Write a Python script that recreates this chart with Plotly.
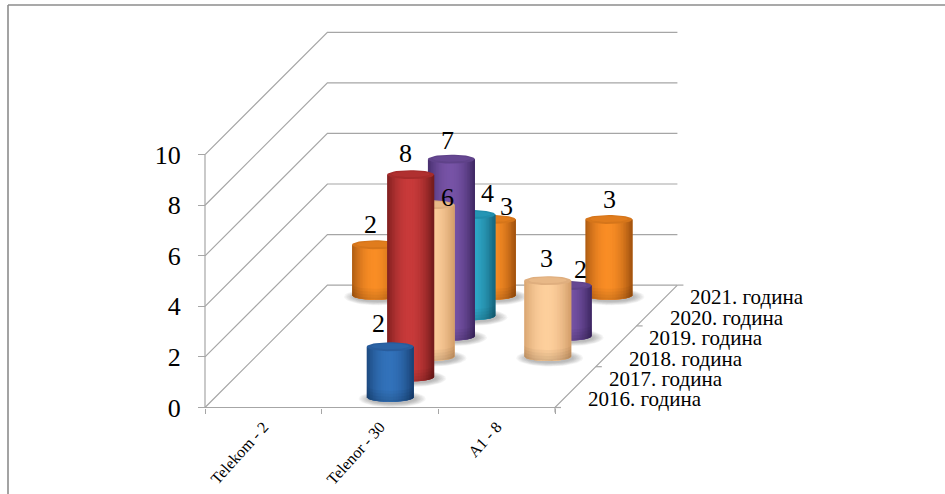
import math
import plotly.graph_objects as go

CATEGORIES = ["Telekom - 2", "Telenor - 30", "A1 - 8"]
YEARS = ["2016. година", "2017. година", "2018. година", "2019. година", "2020. година", "2021. година"]
V2016 = [None, 2, None]
V2017 = [None, 8, None]
V2018 = [None, 6, 3]
V2019 = [None, 7, 2]
V2020 = [None, 4, None]
V2021 = [2, 3, 3]
SERIES = [V2016, V2017, V2018, V2019, V2020, V2021]
VALUE_TICKS = [0, 2, 4, 6, 8, 10]

# styling (per series): centre colour, edge colour, cap colour
STYLE = [
    ("#3272ba", "#1a4478", "#285c9c"),
    ("#c83a3a", "#761c1c", "#a52b2b"),
    ("#fdcf9c", "#d5a06c", "#dfae7e"),
    ("#7753a6", "#412a66", "#5f4289"),
    ("#2fa8c8", "#176880", "#1f8dab"),
    ("#f98d25", "#a55510", "#d5751a"),
]
# px nudges of value labels (series, category) -> (dx, dy up)
NUDGE = {(0, 1): (-12, 23), (1, 1): (-5, 21), (2, 1): (16, 7), (2, 2): (-1, 22), (3, 1): (-4, 19),
         (3, 2): (12, 16), (4, 1): (16, 21), (5, 0): (-5, 20), (5, 1): (14, 13), (5, 2): (1, 20)}

W, H = 945, 494
PX_X0, PX_CAT = 205.0, 116.67
PX_Y0, PX_VAL = 407.5, 25.28
PX_DEPTH = 20.4
DX, DY = PX_DEPTH / PX_CAT, PX_DEPTH / PX_VAL
RX, RY = 23.5 / PX_CAT, 4.5 / PX_VAL
GREY = "#a6a6a6"


def hex2rgb(c):
    return [int(c[i:i + 2], 16) for i in (1, 3, 5)]


def mix(a, b, t):
    a, b = hex2rgb(a), hex2rgb(b)
    return "rgb(%d,%d,%d)" % tuple(round(a[i] + (b[i] - a[i]) * t) for i in range(3))


fig = go.Figure()


def line(xs, ys, color=GREY, width=1.2):
    fig.add_trace(go.Scatter(x=xs, y=ys, mode="lines", line=dict(color=color, width=width),
                             hoverinfo="skip", showlegend=False))


def poly(xs, ys, color, lw=0.0):
    fig.add_trace(go.Scatter(x=xs, y=ys, mode="lines", fill="toself", fillcolor=color,
                             line=dict(color=color, width=lw), hoverinfo="skip", showlegend=False))


# walls and floor
for v in VALUE_TICKS:
    line([0, 6 * DX, 3 + 6 * DX], [v, v + 6 * DY, v + 6 * DY])
line([0, 0], [0, 10])
line([0, 3, 3 + 6 * DX], [0, 0, 6 * DY])
# depth ticks
for i in (0, 2, 4, 6):
    line([3 + i * DX, 3 + i * DX + 6 / PX_CAT], [i * DY, i * DY])
line([3, 3], [0, -5 / PX_VAL])


def ellipse(cx, cy, rx, ry, n=48):
    a = [2 * math.pi * k / n for k in range(n + 1)]
    return [cx + rx * math.cos(t) for t in a], [cy + ry * math.sin(t) for t in a]


def low(u):
    return math.sqrt(max(0, 1 - u * u))


def cylinder(s, c, v):
    mid, edge, cap = STYLE[s]
    cx = c + 0.5 + (s + 0.5) * DX
    cy = (s + 0.5) * DY
    # soft shadow
    for k in range(8):
        xs, ys = ellipse(cx + 2 / PX_CAT, cy - 1.5 / PX_VAL, RX + (10 - 1.4 * k) / PX_CAT, RY + (4 - 0.5 * k) / PX_VAL)
        poly(xs, ys, "rgba(70,70,70,0.055)")
    # body: strips painted left to right, each overlapping the next so no seams show
    n = 30
    for k in range(n):
        u0 = -1 + 2 * k / n
        u1 = min(1, u0 + 6 / n)
        um = u0 + 1 / n
        t = min(1, abs(um + 0.05) ** 2.0)
        col = mix(mid, edge, t)
        us = [u0 + (u1 - u0) * j / 6 for j in range(7)]
        xs = [cx + RX * u for u in us] + [cx + RX * u1, cx + RX * u0]
        ys = [cy - RY * low(u) for u in us] + [cy + v, cy + v]
        poly(xs, ys, col)
    # darkening towards the foot of the cylinder
    for k in range(4):
        h = (2 + 3 * k) / PX_VAL
        us = [-1 + 2 * j / 24 for j in range(25)]
        xs = [cx + RX * u for u in us] + [cx + RX * u for u in reversed(us)]
        ys = [cy - RY * low(u) for u in us] + [cy + h - RY * low(u) for u in reversed(us)]
        poly(xs, ys, "rgba(0,0,0,0.035)")
    # top cap
    xs, ys = ellipse(cx, cy + v, RX, RY)
    poly(xs, ys, cap)
    xs, ys = ellipse(cx, cy + v + 0.4 / PX_VAL, RX * 0.8, RY * 0.65)
    poly(xs, ys, mix(cap, mid, 0.3))


annotations = []
for s in range(5, -1, -1):
    for c, v in enumerate(SERIES[s]):
        if v is not None:
            cylinder(s, c, v)
for s in range(6):
    for c, v in enumerate(SERIES[s]):
        if v is not None:
            nx, ny = NUDGE[(s, c)]
            annotations.append(dict(x=c + 0.5 + (s + 0.5) * DX, y=v + (s + 0.5) * DY, text=str(v), xref="x", yref="y",
                                    showarrow=False, xshift=nx, yshift=ny,
                                    font=dict(size=26, color="#000000")))
    annotations.append(dict(x=3 + (s + 0.5) * DX, y=(s + 0.5) * DY, text=YEARS[s], xref="x", yref="y",
                            showarrow=False, xanchor="left", xshift=21, yshift=-2,
                            font=dict(size=21, color="#000000")))

fig.update_layout(
    width=W, height=H, autosize=False, margin=dict(l=0, r=0, t=0, b=0),
    paper_bgcolor="#ffffff", plot_bgcolor="#ffffff", showlegend=False,
    font=dict(family="Liberation Serif", color="#000000"),
    annotations=annotations,
    shapes=[dict(type="line", xref="paper", yref="paper", x0=8 / W, x1=1, y0=1 - 5 / H, y1=1 - 5 / H,
                 line=dict(color="#8c8c8c", width=1.6)),
            dict(type="line", xref="paper", yref="paper", x0=8 / W, x1=8 / W, y0=0, y1=1 - 5 / H,
                 line=dict(color="#8c8c8c", width=1.6))],
    xaxis=dict(range=[-PX_X0 / PX_CAT, (W - PX_X0) / PX_CAT], domain=[0, 1], anchor="free",
               position=(H - PX_Y0) / H, showgrid=False, zeroline=False, showline=False,
               tickmode="array", tickvals=[0.5, 1.5, 2.5], ticktext=CATEGORIES, tickangle=-48, ticks="",
               tickfont=dict(size=16), ticklen=5, ticklabelstandoff=6,
               minor=dict(tickmode="array", tickvals=[0, 1, 2, 3], ticks="outside", ticklen=5, tickcolor=GREY,
                          tickwidth=1.2, showgrid=False)),
    yaxis=dict(range=[(PX_Y0 - H) / PX_VAL, PX_Y0 / PX_VAL], domain=[0, 1], anchor="free",
               position=PX_X0 / W, showgrid=False, zeroline=False, showline=False,
               tickmode="array", tickvals=VALUE_TICKS, ticks="outside", ticklen=7, tickcolor=GREY, tickwidth=1.2,
               tickfont=dict(size=26), ticklabelstandoff=12),
)
fig.write_html("out.html", post_script="document.body.style.margin='0';", config={"displayModeBar": False})
